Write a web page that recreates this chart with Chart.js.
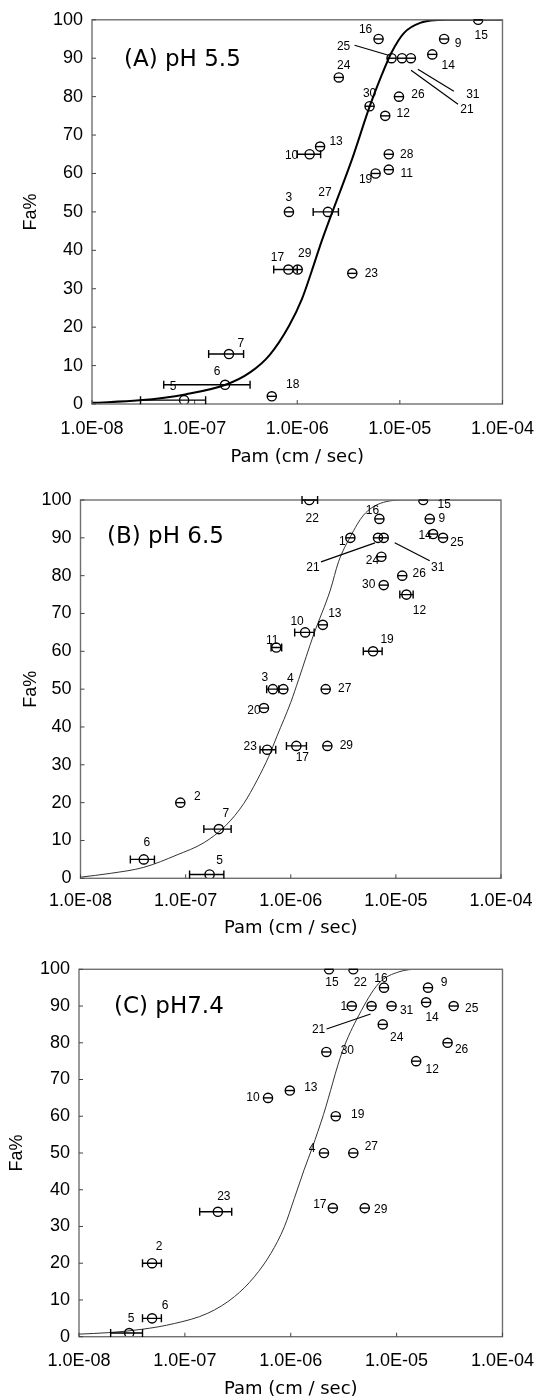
<!DOCTYPE html>
<html>
<head>
<meta charset="utf-8">
<script src="https://cdn.jsdelivr.net/npm/chart.js@4.4.1/dist/chart.umd.min.js"></script>
<style>
  html, body { margin: 0; padding: 0; background: #fff; }
  #wrap { position: relative; width: 548px; height: 1400px; }
  canvas { position: absolute; left: 0; }
</style>
</head>
<body>
<div id="wrap">
  <canvas id="chartA" width="548" height="470" style="top:0px"></canvas>
  <canvas id="chartB" width="548" height="470" style="top:470px"></canvas>
  <canvas id="chartC" width="548" height="460" style="top:940px"></canvas>
</div>
<script>
// x axis ticks (log scale, decades)
const xTickValues = [1e-8, 1e-7, 1e-6, 1e-5, 1e-4];
const xTickLabels = ['1.0E-08', '1.0E-07', '1.0E-06', '1.0E-05', '1.0E-04'];

// (A) pH 5.5
const idsA = [15, 16, 9, 25, 21, 31, 14, 24, 30, 26, 12, 13, 10, 28, 11, 19, 3, 27, 17, 29, 23, 7, 6, 5, 18];
const pamA = [5.8e-5, 6.2e-6, 2.7e-5, 8.3e-6, 1.05e-5, 1.28e-5, 2.07e-5, 2.54e-6, 5.07e-6, 9.8e-6, 7.2e-6, 1.67e-6, 1.32e-6,
              7.8e-6, 7.8e-6, 5.8e-6, 8.3e-7, 1.99e-6, 8.2e-7, 1.01e-6, 3.44e-6, 2.16e-7, 1.98e-7, 7.9e-8, 5.65e-7];
const faA  = [100, 95, 95, 90, 90, 90, 91, 85, 77.5, 80, 75, 67, 65, 65, 61, 60, 50, 50, 35, 35, 34, 13, 5, 1, 2];
const errLoA = [null, null, null, null, null, null, null, null, null, null, null, null, 1.0e-6,
                null, null, null, null, 1.43e-6, 5.9e-7, null, null, 1.37e-7, 5.0e-8, 2.97e-8, null];
const errHiA = [null, null, null, null, null, null, null, null, null, null, null, null, 1.69e-6,
                null, null, null, null, 2.52e-6, 1.0e-6, null, null, 3.0e-7, 3.47e-7, 1.28e-7, null];
const curvePamA = [1e-8, 2.9e-8, 8.1e-8, 2e-7, 3.5e-7, 5.4e-7, 8.3e-7, 1.11e-6, 1.38e-6, 1.72e-6, 2.2e-6,
                   3.45e-6, 5.07e-6, 6.6e-6, 8.3e-6, 1.1e-5, 1.58e-5, 2.8e-5, 1e-4];
const curveFaA  = [0.3, 0.95, 2.5, 5.0, 8.3, 12.8, 20.3, 27.3, 34.5, 42.2, 50, 64, 77.4, 85.4, 91.5, 96.6, 99.2, 100, 100];

// (B) pH 6.5
const idsB = [22, 15, 16, 9, 1, 21, 31, 14, 25, 24, 26, 30, 12, 13, 10, 11, 19, 3, 4, 27, 20, 23, 17, 29, 2, 7, 6, 5];
const pamB = [1.5e-6, 1.82e-5, 6.97e-6, 2.1e-5, 3.69e-6, 6.76e-6, 7.66e-6, 2.26e-5, 2.81e-5, 7.28e-6, 1.15e-5, 7.66e-6,
              1.26e-5, 2.02e-6, 1.37e-6, 7.28e-7, 6.07e-6, 6.76e-7, 8.5e-7, 2.15e-6, 5.56e-7, 5.97e-7, 1.13e-6, 2.23e-6,
              8.9e-8, 2.07e-7, 4.0e-8, 1.69e-7];
const faB  = [100, 100, 95, 95, 90, 90, 90, 91, 90, 85, 80, 77.5, 75, 67, 65, 61, 60, 50, 50, 50, 45, 34, 35, 35, 20, 13, 5, 1];
const errLoB = [1.28e-6, null, null, null, null, null, null, null, null, null, null, null, 1.09e-5, null, 1.09e-6,
                6.5e-7, 4.9e-6, 5.9e-7, null, null, null, 5.1e-7, 9.1e-7, null, null, 1.49e-7, 2.98e-8, 1.09e-7];
const errHiB = [1.8e-6, null, null, null, null, null, null, null, null, null, null, null, 1.46e-5, null, 1.67e-6,
                8.2e-7, 7.4e-6, 7.7e-7, null, null, null, 7.2e-7, 1.41e-6, null, null, 2.71e-7, 5.05e-8, 2.31e-7];
const curvePamB = [1e-8, 1.92e-8, 4e-8, 8.3e-8, 1.49e-7, 2.4e-7, 3.58e-7, 4.8e-7, 6.2e-7, 7.4e-7, 1e-6, 1.19e-6,
                   1.65e-6, 2.38e-6, 2.85e-6, 3.69e-6, 4.93e-6, 7.1e-6, 1.28e-5, 1e-4];
const curveFaB  = [0.3, 1.3, 2.9, 6.2, 9.4, 13.9, 19.8, 26, 32.3, 37.6, 46.5, 52.6, 64.4, 76.2, 83.7, 90.3, 96, 99.1, 100, 100];

// (C) pH 7.4
const idsC = [15, 22, 16, 9, 1, 21, 31, 14, 25, 24, 26, 30, 12, 13, 10, 19, 4, 27, 17, 29, 23, 2, 6, 5];
const pamC = [2.3e-6, 3.9e-6, 7.6e-6, 1.98e-5, 3.77e-6, 5.8e-6, 8.96e-6, 1.9e-5, 3.46e-5, 7.4e-6, 3.03e-5, 2.17e-6,
              1.53e-5, 9.8e-7, 6.1e-7, 2.66e-6, 2.06e-6, 3.9e-6, 2.5e-6, 5.0e-6, 2.05e-7, 4.9e-8, 4.9e-8, 2.98e-8];
const faC  = [100, 100, 95, 95, 90, 90, 90, 91, 90, 85, 80, 77.5, 75, 67, 65, 60, 50, 50, 35, 35, 34, 20, 5, 1];
const errLoC = [null, null, null, null, null, null, null, null, null, null, null, null, null, null, null, null,
                null, null, null, null, 1.38e-7, 3.98e-8, 3.98e-8, 1.99e-8];
const errHiC = [null, null, null, null, null, null, null, null, null, null, null, null, null, null, null, null,
                null, null, null, null, 2.77e-7, 6.0e-8, 6.0e-8, 3.98e-8];
const curvePamC = [1e-8, 1.89e-8, 3.9e-8, 8e-8, 1.65e-7, 2.94e-7, 4.53e-7, 6.5e-7, 8.7e-7, 1.08e-6, 1.34e-6, 1.6e-6,
                   2.04e-6, 3.07e-6, 4.4e-6, 6.8e-6, 1.05e-5, 1.62e-5, 1e-4];
const curveFaC  = [0.7, 1.1, 2.0, 3.6, 6.4, 10.9, 16.3, 22.7, 29.9, 37.6, 45.5, 51.5, 60.5, 77.6, 87.5, 96.2, 99.3, 100, 100];

// layout / style per panel (pixel offsets for labels are relative to the point)
const panels = [
  {
    canvas: 'chartA', title: '(A) pH 5.5', ids: idsA, pam: pamA, fa: faA, lo: errLoA, hi: errHiA,
    cPam: curvePamA, cFa: curveFaA, curveWidth: 2, curveColor: '#000',
    plot: { l: 92, r: 514, t: 17.3, b: 404 }, h: 470,
    yTitlePad: 20, xTickPad: 14, xTitlePad: 2, titleAt: [32, 40],
    labelOff: { 15: [3, 16], 16: [-13, -9], 9: [14, 5], 25: [-48, -12], 21: [65, 51], 31: [62, 36], 14: [16, 11],
      24: [5, -12], 30: [0, -13], 26: [19, -2], 12: [18, -2], 13: [16, -5], 10: [-18, 1], 28: [18, 0], 11: [18, 4],
      19: [-10, 6], 3: [0, -14], 27: [-3, -19], 17: [-11, -12], 29: [7, -16], 23: [19, 0], 7: [12, -10],
      6: [-8, -13], 5: [-11, -13], 18: [21, -12] },
    leaders: { 25: [-37, -13, -3, -3], 31: [43, 33, 7, 11], 21: [56, 46, 9, 12] }
  },
  {
    canvas: 'chartB', title: '(B) pH 6.5', ids: idsB, pam: pamB, fa: faB, lo: errLoB, hi: errHiB,
    cPam: curvePamB, cFa: curveFaB, curveWidth: 1, curveColor: '#333',
    plot: { l: 80.5, r: 501, t: 30, b: 408.3 }, h: 470,
    yTitlePad: 20, xTickPad: 12, xTitlePad: 1, titleAt: [26.5, 37.5],
    labelOff: { 22: [3, 19], 15: [21, 5], 16: [-7, -8], 9: [12, 0], 1: [-8, 4], 21: [-65, 30], 31: [54, 30],
      14: [-8, 2], 25: [14, 5], 24: [-9, 4], 26: [17, -2], 30: [-15, 0], 12: [13, 16], 13: [12, -11],
      10: [-8, -11], 11: [-4, -7], 19: [14, -12], 3: [-8, -11], 4: [7, -10], 27: [19, 0], 20: [-10, 3],
      23: [-17, -3], 17: [6, 12], 29: [19, 0], 2: [17, -6], 7: [7, -15], 6: [3, -17], 5: [10, -14] },
    leaders: { 21: [-57, 24, -3, 5], 31: [46, 23, 11, 5] }
  },
  {
    canvas: 'chartC', title: '(C) pH7.4', ids: idsC, pam: pamC, fa: faC, lo: errLoC, hi: errHiC,
    cPam: curvePamC, cFa: curveFaC, curveWidth: 1, curveColor: '#333',
    plot: { l: 79, r: 504, t: 29.3, b: 396.7 }, h: 460,
    yTitlePad: 6, xTickPad: 14, xTitlePad: 0, titleAt: [35, 38],
    labelOff: { 15: [3, 13], 22: [7, 13], 16: [-3, -9], 9: [16, -5], 1: [-8, 1], 21: [-53, 24], 31: [15, 5],
      14: [6, 15], 25: [18, 3], 24: [14, 13], 26: [14, 7], 30: [21, -1], 12: [16, 9], 13: [21, -3],
      10: [-15, 0], 19: [22, -2], 4: [-12, -4], 27: [18, -6], 17: [-13, -3], 29: [16, 2], 23: [6, -15],
      2: [7, -17], 6: [13, -13], 5: [2, -14] },
    leaders: { 21: [-45, 23, -1, 8] }
  }
];

const R = 4.6;
Chart.defaults.font.family = '"Liberation Sans", Arial, sans-serif';
Chart.defaults.color = '#000';

function marksPlugin(p) {
  return {
    id: 'marks',
    afterDatasetsDraw(chart) {
      const { ctx, chartArea: a } = chart;
      const x = chart.scales.x, y = chart.scales.y;
      ctx.save();
      // frame
      ctx.strokeStyle = '#707070';
      ctx.lineWidth = 1.4;
      ctx.strokeRect(a.left, a.top, a.right - a.left, a.bottom - a.top);
      // inward ticks
      ctx.strokeStyle = '#444';
      ctx.lineWidth = 1;
      ctx.beginPath();
      y.ticks.forEach(t => {
        const py = y.getPixelForValue(t.value);
        ctx.moveTo(a.left, py); ctx.lineTo(a.left + 4, py);
      });
      x.ticks.forEach(t => {
        const px = x.getPixelForValue(t.value);
        ctx.moveTo(px, a.bottom); ctx.lineTo(px, a.bottom - 4);
      });
      ctx.stroke();
      // error bars (line through circle, caps where measured)
      ctx.strokeStyle = '#000';
      ctx.lineWidth = 1.4;
      p.pam.forEach((v, i) => {
        const px = x.getPixelForValue(v), py = y.getPixelForValue(p.fa[i]);
        const x0 = p.lo[i] != null ? x.getPixelForValue(p.lo[i]) : px - R;
        const x1 = p.hi[i] != null ? x.getPixelForValue(p.hi[i]) : px + R;
        ctx.beginPath();
        ctx.moveTo(x0, py); ctx.lineTo(x1, py);
        if (p.lo[i] != null) { ctx.moveTo(x0, py - 4); ctx.lineTo(x0, py + 4); }
        if (p.hi[i] != null) { ctx.moveTo(x1, py - 4); ctx.lineTo(x1, py + 4); }
        ctx.stroke();
      });
      // point labels + leader lines
      ctx.fillStyle = '#000';
      ctx.font = '12px "Liberation Sans", Arial, sans-serif';
      ctx.textAlign = 'center';
      ctx.textBaseline = 'middle';
      ctx.lineWidth = 1.2;
      p.ids.forEach((id, i) => {
        const px = x.getPixelForValue(p.pam[i]), py = y.getPixelForValue(p.fa[i]);
        const off = p.labelOff[id] || [12, -10];
        ctx.fillText(String(id), px + off[0], py + off[1]);
        const ld = p.leaders[id];
        if (ld) {
          ctx.beginPath();
          ctx.moveTo(px + ld[0], py + ld[1]);
          ctx.lineTo(px + ld[2], py + ld[3]);
          ctx.stroke();
        }
      });
      // panel title
      ctx.font = '23px "DejaVu Sans", sans-serif';
      ctx.textAlign = 'left';
      ctx.fillText(p.title, a.left + p.titleAt[0], a.top + p.titleAt[1]);
      ctx.restore();
    }
  };
}

panels.forEach(p => {
  new Chart(document.getElementById(p.canvas), {
    type: 'scatter',
    data: {
      datasets: [
        {
          data: p.pam.map((v, i) => ({ x: v, y: p.fa[i] })),
          pointStyle: 'circle',
          pointRadius: R,
          borderColor: '#000',
          borderWidth: 1.4,
          backgroundColor: 'rgba(0,0,0,0)'
        },
        {
          data: p.cPam.map((v, i) => ({ x: v, y: p.cFa[i] })),
          showLine: true,
          pointRadius: 0,
          borderColor: p.curveColor,
          borderWidth: p.curveWidth,
          cubicInterpolationMode: 'monotone',
          fill: false
        }
      ]
    },
    options: {
      responsive: false,
      animation: false,
      devicePixelRatio: 1,
      events: [],
      layout: { padding: { left: 0, top: p.plot.t, right: 548 - p.plot.r, bottom: 0 } },
      plugins: { legend: { display: false }, tooltip: { enabled: false } },
      scales: {
        x: {
          type: 'logarithmic',
          min: 1e-8,
          max: 1e-4,
          afterBuildTicks: s => { s.ticks = xTickValues.map(v => ({ value: v })); },
          afterFit: s => { s.height = p.h - p.plot.b; },
          ticks: {
            autoSkip: false,
            maxRotation: 0,
            padding: p.xTickPad,
            font: { size: 18 },
            callback: (v, i) => xTickLabels[i]
          },
          grid: { display: false, drawTicks: false },
          border: { display: false },
          title: {
            display: true,
            text: 'Pam (cm / sec)',
            font: { family: '"DejaVu Sans", sans-serif', size: 18 },
            padding: { top: 0, bottom: p.xTitlePad }
          }
        },
        y: {
          min: 0,
          max: 100,
          afterFit: s => { s.width = p.plot.l; },
          ticks: { stepSize: 10, padding: 9, font: { size: 18 } },
          grid: { display: false, drawTicks: false },
          border: { display: false },
          title: {
            display: true,
            text: 'Fa%',
            font: { size: 18 },
            padding: { top: p.yTitlePad, bottom: 0 }
          }
        }
      }
    },
    plugins: [marksPlugin(p)]
  });
});
</script>
</body>
</html>
